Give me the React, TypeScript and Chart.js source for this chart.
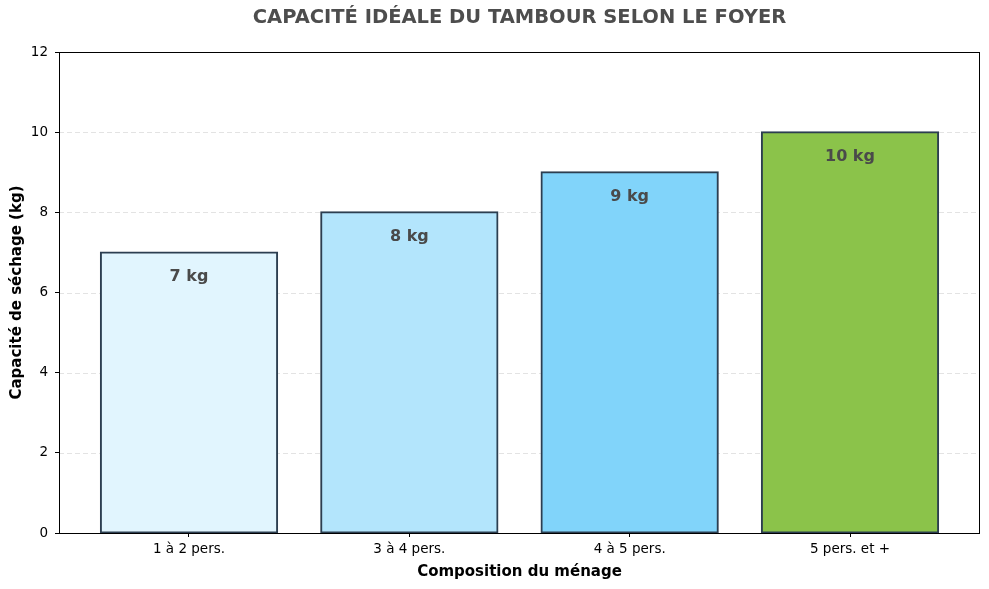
import React, { useEffect, useRef } from "react";
import { Chart, registerables } from "chart.js";

Chart.register(...registerables);

const categories = ["1 à 2 pers.", "3 à 4 pers.", "4 à 5 pers.", "5 pers. et +"];
const capacities = [7, 8, 9, 10];
const valueLabels = ["7 kg", "8 kg", "9 kg", "10 kg"];
const barColors = ["#E1F5FE", "#B3E5FC", "#81D4FA", "#8BC34A"];
const yTicks = [0, 2, 4, 6, 8, 10, 12];
const gridTicks = [2, 4, 6, 8, 10];

const TITLE = "CAPACITÉ IDÉALE DU TAMBOUR SELON LE FOYER";
const X_TITLE = "Composition du ménage";
const Y_TITLE = "Capacité de séchage (kg)";
const FONT = "'DejaVu Sans', sans-serif";

const textPlugin = {
  id: "customText",
  beforeDatasetsDraw(chart: any) {
    const { ctx, chartArea, scales } = chart;
    ctx.save();
    ctx.strokeStyle = "#e3e3e3";
    ctx.lineWidth = 1;
    ctx.setLineDash([5, 3]);
    gridTicks.forEach((t) => {
      const y = Math.round(scales.y.getPixelForValue(t)) + 0.5;
      ctx.beginPath();
      ctx.moveTo(chartArea.left, y);
      ctx.lineTo(chartArea.right, y);
      ctx.stroke();
    });
    ctx.restore();
  },
  afterDraw(chart: any) {
    const { ctx, chartArea } = chart;
    ctx.save();
    ctx.strokeStyle = "#000";
    ctx.lineWidth = 1;
    ctx.setLineDash([]);
    ctx.strokeRect(
      Math.round(chartArea.left) + 0.5,
      Math.round(chartArea.top) + 0.5,
      Math.round(chartArea.right - chartArea.left) - 1,
      Math.round(chartArea.bottom - chartArea.top)
    );
    const cx = (chartArea.left + chartArea.right) / 2;
    const cy = (chartArea.top + chartArea.bottom) / 2;
    ctx.fillStyle = "#4d4d4d";
    ctx.font = `bold 19.5px ${FONT}`;
    ctx.textAlign = "center";
    ctx.textBaseline = "middle";
    ctx.fillText(TITLE, cx, 18);
    ctx.fillStyle = "#000";
    ctx.font = `bold 15px ${FONT}`;
    ctx.fillText(X_TITLE, cx, 572);
    ctx.save();
    ctx.translate(17.5, cy);
    ctx.rotate(-Math.PI / 2);
    ctx.fillText(Y_TITLE, 0, 0);
    ctx.restore();
    const meta = chart.getDatasetMeta(0);
    ctx.fillStyle = "#4a4a4a";
    ctx.font = `bold 16px ${FONT}`;
    ctx.textBaseline = "alphabetic";
    meta.data.forEach((bar: any, i: number) => {
      ctx.fillText(valueLabels[i], bar.x, bar.y + 29);
    });
    ctx.restore();
  },
};

export default function App() {
  const ref = useRef<HTMLCanvasElement | null>(null);
  useEffect(() => {
    if (!ref.current) return;
    const chart = new Chart(ref.current, {
      type: "bar",
      data: {
        datasets: [
          {
            data: capacities.map((v, i) => ({ x: i, y: v })),
            backgroundColor: barColors,
            borderColor: "#2c3e50",
            borderWidth: 2,
            borderSkipped: false,
            inflateAmount: 1,
            barPercentage: 0.8,
            categoryPercentage: 1,
          },
        ],
      },
      options: {
        responsive: false,
        animation: false,
        devicePixelRatio: 1,
        layout: { padding: { left: 0, right: 9, top: 52, bottom: 0 } },
        plugins: {
          legend: { display: false },
          tooltip: { enabled: false },
          title: { display: false },
        },
        scales: {
          x: {
            type: "linear",
            offset: false,
            min: -0.59,
            max: 3.59,
            afterBuildTicks: (scale: any) => {
              scale.ticks = categories.map((_, i) => ({ value: i }));
            },
            afterFit: (scale: any) => {
              scale.height = 56;
            },
            ticks: {
              callback: (v: any) => categories[Math.round(v)],
              font: { family: FONT, size: 13.5 },
              color: "#000",
              padding: 4,
              autoSkip: false,
              maxRotation: 0,
            },
            grid: {
              display: true,
              offset: false,
              drawOnChartArea: false,
              drawTicks: true,
              tickLength: 4,
              tickColor: "#000",
            },
            border: { display: false },
          },
          y: {
            min: 0,
            max: 12,
            afterBuildTicks: (scale: any) => {
              scale.ticks = yTicks.map((v) => ({ value: v }));
            },
            afterFit: (scale: any) => {
              scale.width = 59;
            },
            ticks: {
              font: { family: FONT, size: 13.5 },
              color: "#000",
              padding: 7,
            },
            grid: {
              display: true,
              drawOnChartArea: false,
              drawTicks: true,
              tickLength: 4,
              tickColor: "#000",
            },
            border: { display: false },
          },
        },
      },
      plugins: [textPlugin],
    } as any);
    return () => chart.destroy();
  }, []);
  return (
    <div style={{ position: "absolute", left: 0, top: 0, width: 989, height: 589, background: "#fff" }}>
      <canvas ref={ref} width={989} height={589} style={{ width: 989, height: 589 }} />
    </div>
  );
}
